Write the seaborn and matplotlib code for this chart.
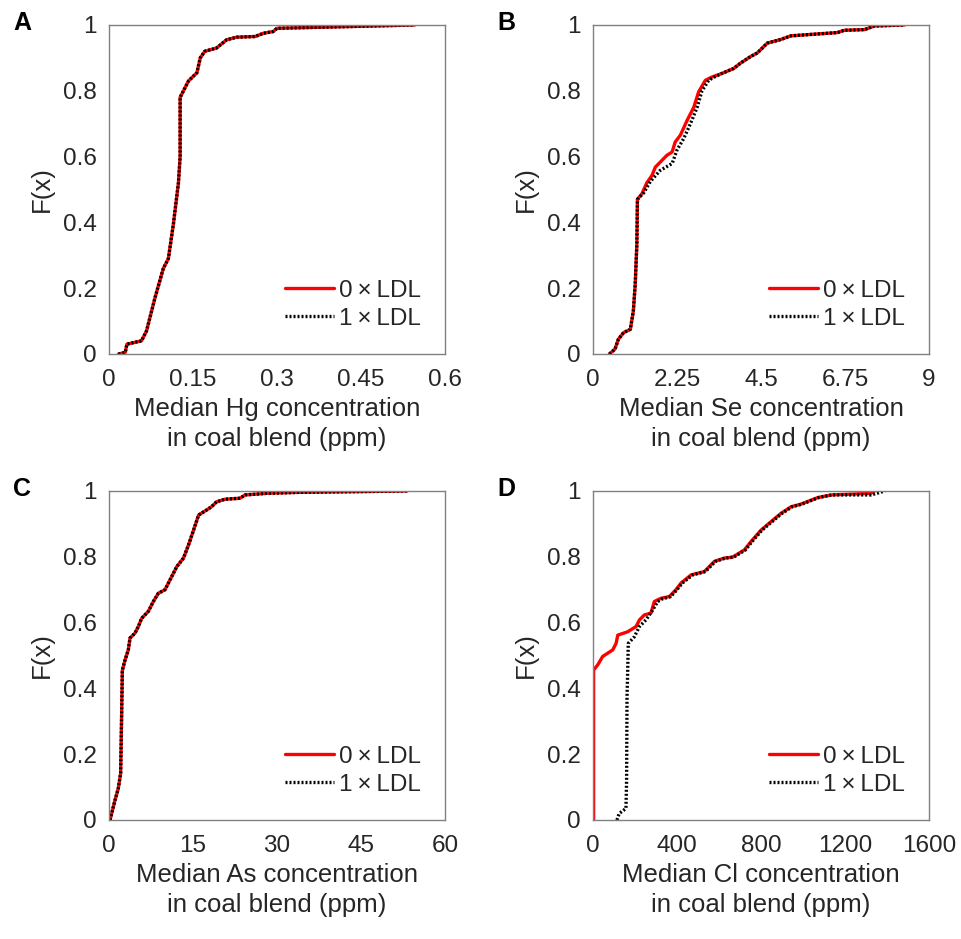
import seaborn as sns
import matplotlib.pyplot as plt
import pandas as pd

# curves (x value, cumulative fraction)
hg_x = [0.017, 0.029, 0.032, 0.058, 0.067, 0.082, 0.097, 0.106, 0.115, 0.124, 0.127, 0.127,
        0.142, 0.157, 0.163, 0.171, 0.192, 0.21, 0.228, 0.261, 0.276, 0.293, 0.30, 0.546]
hg_f = [0.0, 0.005, 0.03, 0.04, 0.07, 0.17, 0.26, 0.29, 0.395, 0.52, 0.60, 0.78,
        0.83, 0.855, 0.90, 0.92, 0.93, 0.955, 0.963, 0.965, 0.975, 0.98, 0.99, 1.0]

se0_x = [0.44, 0.59, 0.68, 0.82, 1.0, 1.08, 1.13, 1.175, 1.19, 1.31, 1.44, 1.58, 1.67, 1.98,
         2.12, 2.2, 2.34, 2.52, 2.70, 2.83, 3.01, 3.19, 3.46, 3.77, 3.95, 4.22, 4.40, 4.67,
         5.03, 5.30, 5.92, 6.55, 6.73, 7.27, 7.54, 8.34]
se0_f = [0.0, 0.015, 0.045, 0.065, 0.075, 0.13, 0.21, 0.335, 0.47, 0.487, 0.52, 0.543, 0.568,
         0.604, 0.614, 0.644, 0.665, 0.71, 0.75, 0.797, 0.832, 0.842, 0.853, 0.868, 0.884,
         0.904, 0.915, 0.945, 0.956, 0.967, 0.972, 0.977, 0.984, 0.986, 0.997, 1.0]
se1_x = [0.44, 0.59, 0.68, 0.82, 1.0, 1.08, 1.13, 1.175, 1.19, 1.36, 1.54, 1.80, 2.12, 2.25,
         2.43, 2.61, 2.79, 2.92, 3.10, 3.25, 3.46, 3.77, 3.95, 4.22, 4.40, 4.67,
         5.03, 5.30, 5.92, 6.55, 6.73, 7.27, 7.54, 8.34]
se1_f = [0.0, 0.015, 0.045, 0.065, 0.075, 0.13, 0.21, 0.335, 0.47, 0.49, 0.525, 0.558, 0.579,
         0.62, 0.655, 0.70, 0.75, 0.80, 0.832, 0.842, 0.853, 0.868, 0.884,
         0.904, 0.915, 0.945, 0.956, 0.967, 0.972, 0.977, 0.984, 0.986, 0.997, 1.0]

as_x = [0.18, 1.07, 1.66, 2.08, 2.26, 2.38, 2.86, 3.45, 3.75, 4.64, 5.24, 5.83, 7.02, 7.92,
        8.81, 10.0, 10.9, 12.1, 13.3, 14.2, 15.1, 16.0, 17.4, 18.3, 19.2, 20.7, 23.4, 24.3,
        28.2, 34.1, 53.2]
as_f = [0.0, 0.06, 0.096, 0.142, 0.325, 0.455, 0.486, 0.517, 0.553, 0.568, 0.588, 0.613,
        0.634, 0.664, 0.689, 0.70, 0.73, 0.77, 0.796, 0.836, 0.881, 0.927, 0.942, 0.952,
        0.967, 0.975, 0.978, 0.988, 0.993, 0.996, 1.0]

cl0_x = [3, 3, 22, 46, 94, 110, 118, 165, 205, 221, 244, 276, 292, 324, 363, 395, 419, 467,
         530, 578, 625, 665, 721, 752, 800, 848, 895, 943, 990, 1070, 1133, 1324, 1340]
cl0_f = [0.0, 0.456, 0.471, 0.497, 0.517, 0.537, 0.562, 0.572, 0.588, 0.608, 0.623, 0.629,
         0.664, 0.674, 0.679, 0.70, 0.72, 0.745, 0.755, 0.786, 0.796, 0.799, 0.821, 0.846,
         0.881, 0.907, 0.932, 0.952, 0.96, 0.98, 0.988, 0.993, 1.0]
cl1_x = [114, 125, 157, 160, 162, 165, 168, 197, 221, 252, 284, 308, 330, 370, 400, 425, 475,
         535, 583, 630, 670, 726, 757, 805, 853, 900, 948, 995, 1075, 1138, 1324, 1379, 1390]
cl1_f = [0.0, 0.02, 0.035, 0.122, 0.375, 0.446, 0.537, 0.557, 0.588, 0.608, 0.638, 0.664,
         0.672, 0.679, 0.70, 0.72, 0.745, 0.755, 0.786, 0.796, 0.799, 0.821, 0.846,
         0.881, 0.907, 0.932, 0.952, 0.96, 0.98, 0.988, 0.988, 0.998, 1.0]

panels = [
    ("A", "Hg", hg_x, hg_f, hg_x, hg_f, [0, 0.15, 0.3, 0.45, 0.6], ["0", "0.15", "0.3", "0.45", "0.6"]),
    ("B", "Se", se0_x, se0_f, se1_x, se1_f, [0, 2.25, 4.5, 6.75, 9], ["0", "2.25", "4.5", "6.75", "9"]),
    ("C", "As", as_x, as_f, as_x, as_f, [0, 15, 30, 45, 60], ["0", "15", "30", "45", "60"]),
    ("D", "Cl", cl0_x, cl0_f, cl1_x, cl1_f, [0, 400, 800, 1200, 1600], ["0", "400", "800", "1200", "1600"]),
]

sns.set_style("white")
plt.rcParams['font.family'] = ['Liberation Sans', 'DejaVu Sans']
plt.rcParams['text.color'] = '#262626'

fig = plt.figure(figsize=(9.61, 9.39), dpi=100)
W, H = 961, 939
boxes = [(109, 25), (593, 25), (109, 491), (593, 491)]
aw, ah = 336, 329

for (letter, el, x0, f0, x1, f1, ticks, ticklabels), (px, py) in zip(panels, boxes):
    ax = fig.add_axes([px / W, 1 - (py + ah) / H, aw / W, ah / H])
    d0 = pd.DataFrame({"x": x0, "F": f0})
    d1 = pd.DataFrame({"x": x1, "F": f1})
    sns.lineplot(data=d0, x="x", y="F", ax=ax, color="#ff0000", lw=2.4,
                 estimator=None, sort=False, label="0\u2009\u00d7\u2009LDL")
    sns.lineplot(data=d1, x="x", y="F", ax=ax, color="black", lw=2.4,
                 estimator=None, sort=False, label="1\u2009\u00d7\u2009LDL",
                 linestyle=(0, (0.6, 0.6)))
    ax.set_xlim(ticks[0], ticks[-1])
    ax.set_ylim(0, 1)
    ax.set_xticks(ticks)
    ax.set_xticklabels(ticklabels)
    ax.set_yticks([0, 0.2, 0.4, 0.6, 0.8, 1])
    ax.set_yticklabels(["0", "0.2", "0.4", "0.6", "0.8", "1"])
    ax.tick_params(direction="in", length=4, width=0.8, color="#808080",
                   labelsize=17.5, labelcolor="#262626")
    ax.tick_params(axis="x", pad=11)
    ax.tick_params(axis="y", pad=9)
    for s in ax.spines.values():
        s.set_color("#808080")
        s.set_linewidth(1.0)
    ax.set_xlabel(f"Median {el} concentration\nin coal blend (ppm)", fontsize=18.5,
                  linespacing=1.3, labelpad=4)
    ax.set_ylabel("F(x)", fontsize=18.5, labelpad=6)
    ax.legend(loc="lower right", frameon=False, fontsize=17.5, handlelength=2.0,
              handletextpad=0.2, labelspacing=0.25, borderaxespad=0.6)
    fig.text((px - 87) / W, 1 - (py - 2) / H, letter, fontsize=18, fontweight="bold",
             ha="center", va="center", color="black")

fig.savefig("out.png", dpi=100)
